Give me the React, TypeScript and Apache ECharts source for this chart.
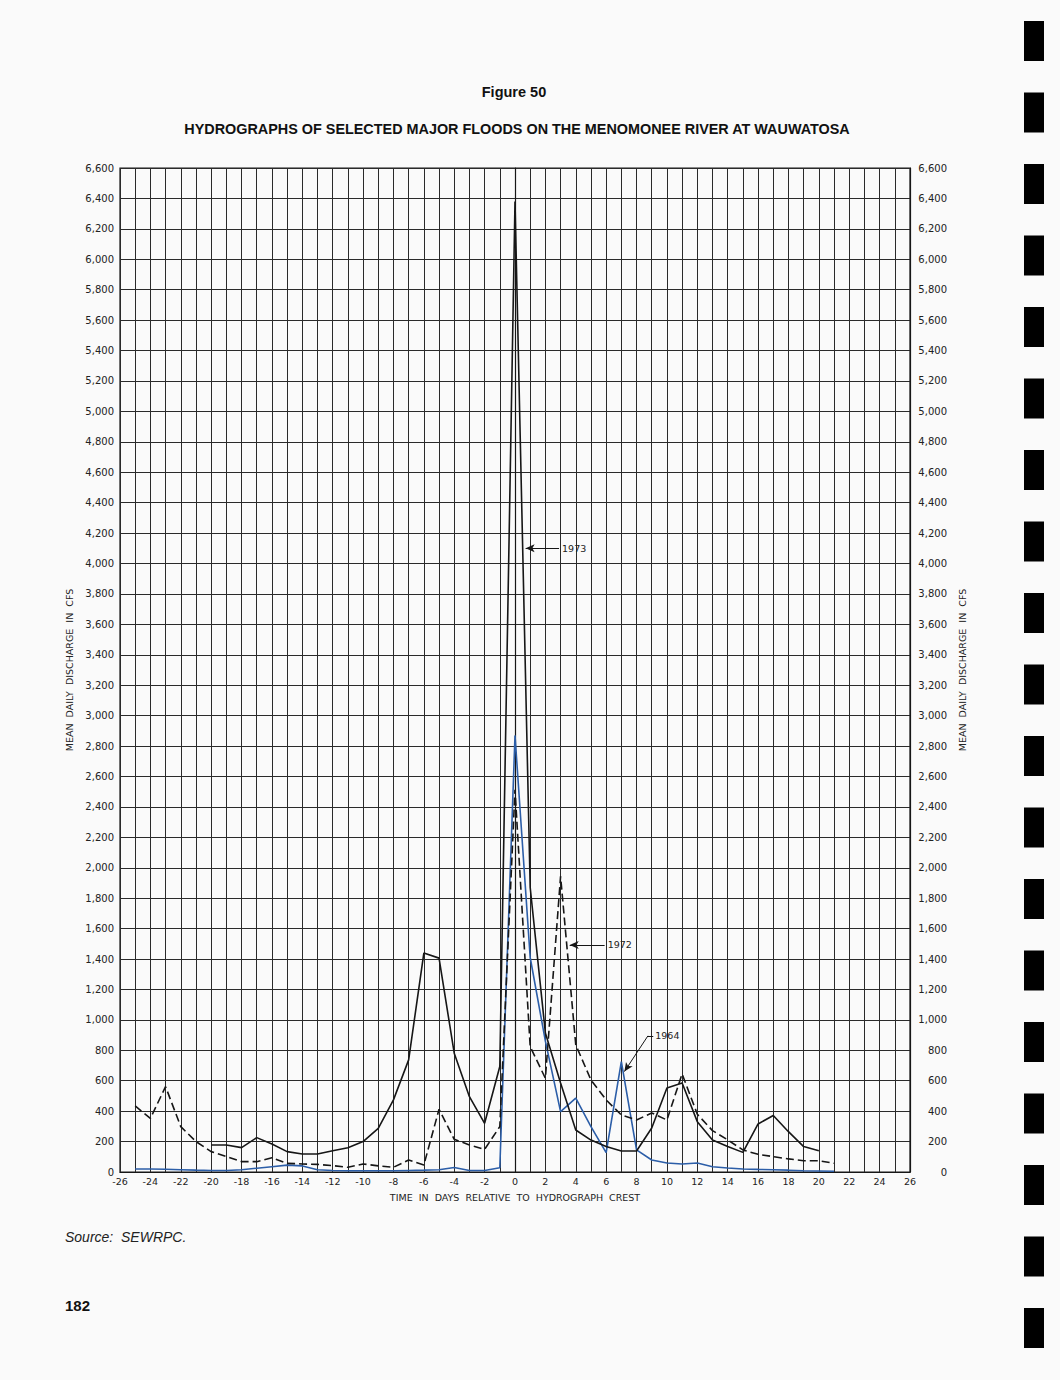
import React, { useEffect, useRef } from "react";
import * as echarts from "echarts";

// ---- data (days relative to crest, mean daily discharge in cfs) ----
const days1973 = [-20, -19, -18, -17, -16, -15, -14, -13, -12, -11, -10, -9, -8, -7, -6, -5, -4, -3, -2, -1, 0, 1, 2, 3, 4, 5, 6, 7, 8, 9, 10, 11, 12, 13, 14, 15, 16, 17, 18, 19, 20];
const q1973 = [177, 177, 160, 226, 184, 134, 118, 118, 140, 160, 200, 287, 474, 737, 1439, 1406, 781, 495, 320, 693, 6380, 1870, 914, 585, 276, 210, 167, 138, 138, 289, 552, 585, 331, 210, 167, 129, 316, 371, 265, 167, 140];

const days1972 = [-25, -24, -23, -22, -21, -20, -19, -18, -17, -16, -15, -14, -13, -12, -11, -10, -9, -8, -7, -6, -5, -4, -3, -2, -1, 0, 1, 2, 3, 4, 5, 6, 7, 8, 9, 10, 11, 12, 13, 14, 15, 16, 17, 18, 19, 20, 21];
const q1972 = [434, 353, 561, 298, 200, 134, 101, 68, 68, 94, 57, 53, 50, 42, 31, 53, 40, 31, 79, 46, 412, 215, 178, 149, 298, 2513, 824, 616, 1943, 836, 605, 474, 375, 342, 388, 342, 645, 380, 272, 211, 145, 116, 101, 86, 74, 74, 57];

const days1964 = [-25, -24, -23, -22, -21, -20, -19, -18, -17, -16, -15, -14, -13, -12, -11, -10, -9, -8, -7, -6, -5, -4, -3, -2, -1, 0, 1, 2, 3, 4, 5, 6, 7, 8, 9, 10, 11, 12, 13, 14, 15, 16, 17, 18, 19, 20, 21];
const q1964 = [20, 20, 18, 15, 12, 10, 10, 15, 25, 35, 45, 40, 15, 10, 8, 8, 8, 8, 10, 12, 15, 30, 10, 10, 28, 2870, 1410, 860, 397, 486, 298, 127, 726, 145, 79, 59, 53, 59, 35, 26, 20, 17, 15, 12, 8, 7, 5];

const xMin = -26;
const xMax = 26;
const yMin = 0;
const yMax = 6600;

const TITLE = "Figure 50";
const SUBTITLE = "HYDROGRAPHS OF SELECTED MAJOR FLOODS ON THE MENOMONEE RIVER AT WAUWATOSA";
const Y_NAME = "MEAN\u00A0 DAILY\u00A0 DISCHARGE\u00A0 IN\u00A0 CFS";
const X_NAME = "TIME\u00A0 IN\u00A0 DAYS\u00A0 RELATIVE\u00A0 TO\u00A0 HYDROGRAPH\u00A0 CREST";
const SOURCE = "Source:  SEWRPC.";
const PAGE = "182";

const AXIS_FONT = "DejaVu Sans, Verdana, sans-serif";
const INK = "#161616";
const BLUE = "#2c5ea8";

const pair = (xs: number[], ys: number[]) => xs.map((x, i) => [x, ys[i]]);
const fmt = (v: number) => v.toLocaleString("en-US");

export default function App() {
  const ref = useRef<HTMLDivElement>(null);

  useEffect(() => {
    document.body.style.margin = "0";
    const chart = echarts.init(ref.current!, null, { renderer: "svg" });

    const bars: any[] = [];
    for (let i = 0; i < 19; i++) {
      bars.push({
        type: "rect",
        shape: { x: 1024, y: 21 + i * 71.5, width: 20, height: 40 },
        style: { fill: "#000" },
        silent: true,
      });
    }

    const labelStyle = {
      fontSize: 9.5,
      fontFamily: AXIS_FONT,
      color: "#222",
    };

    const option: any = {
      animation: false,
      backgroundColor: "#fafafa",
      grid: {
        left: 120,
        right: 150,
        top: 168,
        height: 1004,
        show: true,
        borderColor: INK,
        borderWidth: 1.2,
        backgroundColor: "transparent",
      },
      xAxis: {
        type: "value",
        min: xMin,
        max: xMax,
        interval: 1,
        axisLine: { show: true, lineStyle: { color: INK, width: 1.2 } },
        axisTick: { show: false },
        axisLabel: {
          formatter: (v: number) => (Math.abs(v) % 2 === 0 ? String(v) : ""),
          fontSize: 9.5,
          fontFamily: AXIS_FONT,
          color: "#222",
          margin: 4,
        },
        splitLine: { show: true, lineStyle: { color: "#2a2a2a", width: 1 } },
        name: X_NAME,
        nameLocation: "middle",
        nameGap: 20,
        nameTextStyle: { fontSize: 9.5, fontFamily: AXIS_FONT, color: "#222" },
      },
      yAxis: [
        {
          type: "value",
          min: yMin,
          max: yMax,
          interval: 200,
          position: "left",
          axisLine: { show: true, lineStyle: { color: INK, width: 1.2 } },
          axisTick: { show: false },
          axisLabel: {
            formatter: fmt,
            fontSize: 10,
            fontFamily: AXIS_FONT,
            color: "#222",
            margin: 6,
          },
          splitLine: { show: true, lineStyle: { color: "#2a2a2a", width: 1 } },
          name: Y_NAME,
          nameLocation: "middle",
          nameRotate: 90,
          nameGap: 42,
          nameTextStyle: { fontSize: 9.5, fontFamily: AXIS_FONT, color: "#222" },
        },
        {
          type: "value",
          min: yMin,
          max: yMax,
          interval: 200,
          position: "right",
          axisLine: { show: true, lineStyle: { color: INK, width: 1.2 } },
          axisTick: { show: false },
          axisLabel: {
            formatter: fmt,
            fontSize: 10,
            fontFamily: AXIS_FONT,
            color: "#222",
            margin: 37,
            align: "right",
          },
          splitLine: { show: false },
          name: Y_NAME,
          nameLocation: "middle",
          nameRotate: 90,
          nameGap: 45,
          nameTextStyle: { fontSize: 9.5, fontFamily: AXIS_FONT, color: "#222" },
        },
      ],
      series: [
        {
          type: "line",
          name: "1964",
          data: pair(days1964, q1964),
          symbol: "none",
          lineStyle: { color: BLUE, width: 1.6 },
          z: 3,
          markLine: {
            silent: true,
            symbol: ["none", "none"],
            symbolSize: [6, 9],
            lineStyle: { color: INK, width: 1, type: "solid" },
            label: {
              show: true,
              position: "end",
              distance: 2,
              formatter: (p: any) => (p.dataIndex === 1 ? "1964" : ""),
              ...labelStyle,
            },
            data: [
              [
                { coord: [7.2, 660], symbol: "arrow" },
                { coord: [8.75, 895], symbol: "none" },
              ],
              [
                { coord: [8.75, 895], symbol: "none" },
                { coord: [9.1, 895], symbol: "none" },
              ],
            ],
          },
        },
        {
          type: "line",
          name: "1972",
          data: pair(days1972, q1972),
          symbol: "none",
          lineStyle: { color: INK, width: 1.6, type: [8, 4] },
          z: 4,
          markLine: {
            silent: true,
            symbol: ["arrow", "none"],
            symbolSize: [6, 9],
            lineStyle: { color: INK, width: 1, type: "solid" },
            label: { show: true, position: "end", distance: 3, formatter: "1972", ...labelStyle },
            data: [[{ coord: [3.6, 1493] }, { coord: [5.9, 1493] }]],
          },
        },
        {
          type: "line",
          name: "1973",
          data: pair(days1973, q1973),
          symbol: "none",
          lineStyle: { color: INK, width: 1.6 },
          z: 5,
          markLine: {
            silent: true,
            symbol: ["arrow", "none"],
            symbolSize: [6, 9],
            lineStyle: { color: INK, width: 1, type: "solid" },
            label: { show: true, position: "end", distance: 3, formatter: "1973", ...labelStyle },
            data: [[{ coord: [0.7, 4100] }, { coord: [2.9, 4100] }]],
          },
        },
      ],
      graphic: [
        {
          type: "text",
          x: 514,
          y: 92,
          style: {
            text: TITLE,
            fontSize: 14.5,
            fontWeight: "bold",
            fontFamily: "Liberation Sans, Arial, sans-serif",
            fill: "#111",
            textAlign: "center",
            textVerticalAlign: "middle",
          },
        },
        {
          type: "text",
          x: 517,
          y: 129,
          style: {
            text: SUBTITLE,
            fontSize: 14.4,
            fontWeight: "bold",
            fontFamily: "Liberation Sans, Arial, sans-serif",
            fill: "#111",
            textAlign: "center",
            textVerticalAlign: "middle",
          },
        },
        {
          type: "text",
          x: 65,
          y: 1237,
          style: {
            text: SOURCE,
            fontSize: 14,
            fontStyle: "italic",
            fontFamily: "Liberation Sans, Arial, sans-serif",
            fill: "#222",
            textAlign: "left",
            textVerticalAlign: "middle",
          },
        },
        {
          type: "text",
          x: 65,
          y: 1305,
          style: {
            text: PAGE,
            fontSize: 15,
            fontWeight: "bold",
            fontFamily: "Liberation Sans, Arial, sans-serif",
            fill: "#111",
            textAlign: "left",
            textVerticalAlign: "middle",
          },
        },
        ...bars,
      ],
    };

    chart.setOption(option);
    return () => chart.dispose();
  }, []);

  return <div ref={ref} style={{ width: 1060, height: 1380 }} />;
}
